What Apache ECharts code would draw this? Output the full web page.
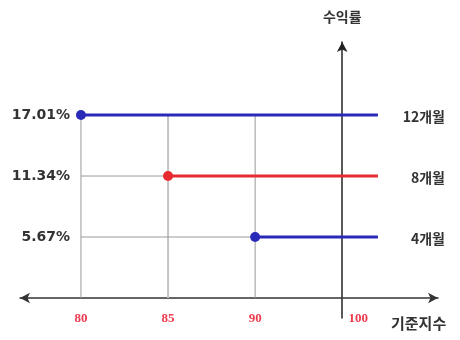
<!DOCTYPE html>
<html>
<head>
<meta charset="utf-8">
<script src="https://cdn.jsdelivr.net/npm/echarts@6/dist/echarts.min.js"></script>
<style>
  html, body { margin: 0; padding: 0; background: #fff; }
  #chart { width: 460px; height: 340px; }
</style>
</head>
<body>
<div id="chart"></div>
<script>
  // data
  const xTicks = [80, 85, 90, 100];
  const periods = ['12개월', '8개월', '4개월'];
  const yields = [17.01, 11.34, 5.67];
  const starts = [80, 85, 90];
  const colors = ['#2a2ab8', '#e62a30', '#2a2ab8'];

  // ticks are drawn evenly spaced, 100 sits on the vertical axis
  const pos = v => xTicks.indexOf(v) - (xTicks.length - 1);
  const LINE_END = 0.41;

  const chart = echarts.init(document.getElementById('chart'));

  let series = [];

  // thin guide lines down to the axis and across to the left
  starts.forEach((s, i) => {
    series.push({
      type: 'line',
      silent: true,
      symbol: 'none',
      z: 1,
      lineStyle: { color: s === 85 ? '#c4c4c4' : '#9a9a9a', width: s === 85 ? 2 : 1 },
      data: [[pos(s), 0], [pos(s), yields[0]]]
    });
    if (s !== xTicks[0]) {
      series.push({
        type: 'line',
        silent: true,
        symbol: 'none',
        z: 1,
        lineStyle: { color: '#9a9a9a', width: 1 },
        data: [[pos(xTicks[0]), yields[i]], [pos(s), yields[i]]]
      });
    }
  });

  periods.forEach((p, i) => {
    series.push({
      name: p,
      type: 'line',
      z: 5,
      symbolSize: 10,
      lineStyle: { color: colors[i], width: 3 },
      itemStyle: { color: colors[i] },
      data: [
        { value: [pos(starts[i]), yields[i]], symbol: 'circle' },
        { value: [LINE_END, yields[i]], symbol: 'none' }
      ],
      endLabel: {
        show: true,
        formatter: p,
        distance: 67,
        align: 'right',
        offset: [0, 2],
        color: '#333',
        fontSize: 14,
        fontWeight: 'bold',
        fontFamily: 'Noto Sans CJK KR'
      }
    });
  });

  const yMin = -1.86, yMax = 23.8;

  chart.setOption({
    animation: false,
    grid: { left: 20, right: 22, top: 42, bottom: 22 },
    xAxis: {
      type: 'value',
      min: -3.7,
      max: 1.1,
      splitLine: { show: false },
      axisTick: { show: false },
      axisLine: {
        onZero: true,
        onZeroAxisIndex: 0,
        symbol: ['arrow', 'arrow'],
        symbolSize: [8, 10],
        lineStyle: { color: '#333', width: 1.5 }
      },
      axisLabel: {
        customValues: xTicks.map(pos),
        margin: -6,
        formatter: v => {
          const t = xTicks[Math.round(v) + xTicks.length - 1];
          return t === 100 ? '{r|' + t + '}' : '{n|' + t + '}';
        },
        rich: {
          n: { color: '#ee3a4e', fontSize: 13, fontWeight: 'bold', fontFamily: 'Liberation Serif' },
          r: { color: '#ee3a4e', fontSize: 13, fontWeight: 'bold', fontFamily: 'Liberation Serif', padding: [0, 0, 0, 32] }
        }
      }
    },
    yAxis: [
      {
        type: 'value',
        min: yMin,
        max: yMax,
        name: '수익률',
        nameLocation: 'end',
        nameGap: 18,
        nameTextStyle: { color: '#333', fontSize: 14, fontWeight: 'bold', fontFamily: 'Noto Sans CJK KR' },
        splitLine: { show: false },
        axisTick: { show: false },
        axisLabel: { show: false },
        axisLine: {
          onZero: true,
          symbol: ['none', 'arrow'],
          symbolSize: [8, 10],
          lineStyle: { color: '#222', width: 1.5 }
        }
      },
      {
        type: 'value',
        position: 'left',
        min: yMin,
        max: yMax,
        splitLine: { show: false },
        axisTick: { show: false },
        axisLine: { show: false, onZero: false },
        axisLabel: {
          customValues: yields,
          margin: -50,
          formatter: v => v.toFixed(2) + '%',
          color: '#333',
          fontSize: 14,
          fontWeight: 'bold',
          fontFamily: 'DejaVu Sans'
        }
      }
    ],
    graphic: [
      {
        type: 'text',
        left: 391,
        top: 316,
        style: {
          text: '기준지수',
          fill: '#333',
          font: 'bold 15px "Noto Sans CJK KR"'
        }
      }
    ],
    series: series
  });
</script>
</body>
</html>
